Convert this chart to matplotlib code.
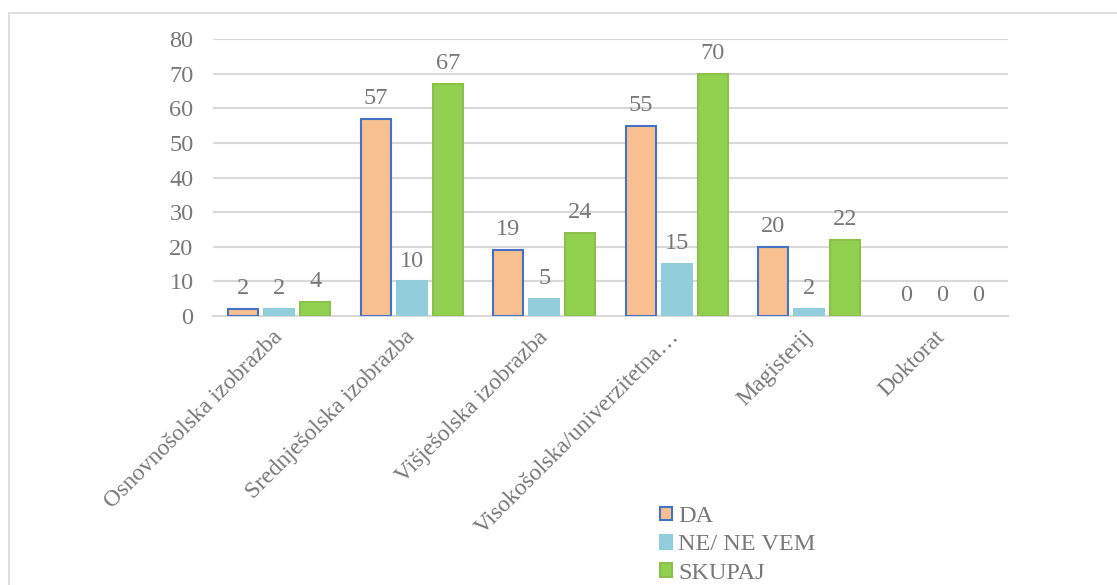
import numpy as np
import matplotlib.pyplot as plt
import matplotlib.patches as ptc

plt.rcParams['font.family'] = ['Liberation Serif', 'DejaVu Serif']

categories = ['Osnovnošolska izobrazba', 'Srednješolska izobrazba', 'Višješolska izobrazba',
              'Visokošolska/univerzitetna…', 'Magisterij', 'Doktorat']
series_names = ['DA', 'NE/ NE VEM', 'SKUPAJ']
da = [2, 57, 19, 55, 20, 0]
ne = [2, 10, 5, 15, 2, 0]
skupaj = [4, 67, 24, 70, 22, 0]
y_ticks = [0, 10, 20, 30, 40, 50, 60, 70, 80]

TXT = '#787878'
GRID = '#D9D9D9'
FS = 17.5
fills = ['#F8C090', '#92CDDC', '#92D050']
edges = ['#4472C4', '#92CDDC', '#8CBF4C']

fig = plt.figure(figsize=(11.17, 5.85), dpi=100)
ax = fig.add_axes([213/1117, 1 - 316/585, (1008 - 213)/1117, (316 - 39)/585])

x = np.arange(len(categories))
w = 0.226
step = 0.272
for k, vals in enumerate([da, ne, skupaj]):
    pos = x + (k - 1) * step
    lw = [1.5 if v > 0 else 0 for v in vals]
    bars = ax.bar(pos, vals, w, color=fills[k], edgecolor=edges[k],
                  linewidth=lw, label=series_names[k], zorder=3)
    for b, v in zip(bars, vals):
        ax.annotate(str(v), (b.get_x() + b.get_width()/2, v),
                    xytext=(0, 7), textcoords='offset points',
                    ha='center', va='bottom', fontsize=FS, color=TXT)

ax.set_xlim(-0.5, len(categories) - 0.5)
ax.set_ylim(0, 80)
ax.set_yticks(y_ticks)
ax.yaxis.grid(True, color=GRID, linewidth=1.5, zorder=0)
ax.set_axisbelow(True)
for s in ['top', 'right', 'left']:
    ax.spines[s].set_visible(False)
ax.spines['bottom'].set_color(GRID)
ax.spines['bottom'].set_linewidth(1.5)
ax.tick_params(axis='both', length=0, labelsize=FS, labelcolor=TXT)
ax.tick_params(axis='y', pad=14)
ax.set_xticks(x)
ax.set_xticklabels(categories, rotation=45, ha='right', va='center',
                   rotation_mode='anchor', fontsize=17)
ax.tick_params(axis='x', pad=13)

leg = fig.legend(loc='upper left', bbox_to_anchor=(648/1117, 1 - 494/585),
                 frameon=False, fontsize=FS, labelcolor=TXT,
                 handlelength=0.5, handleheight=0.5, handletextpad=0.25,
                 labelspacing=0.3, borderpad=0)
for h in leg.legend_handles:
    h.set_linewidth(1.5 if h.get_edgecolor()[:3] != (0, 0, 0) else 0)

# light frame around the chart area
fig.patches.append(ptc.Rectangle((9/1117, -0.1), 1.2, 1 - 13/585 + 0.1,
                                 transform=fig.transFigure, fill=False,
                                 edgecolor=GRID, linewidth=1.2))

fig.savefig('out.png', dpi=100)
